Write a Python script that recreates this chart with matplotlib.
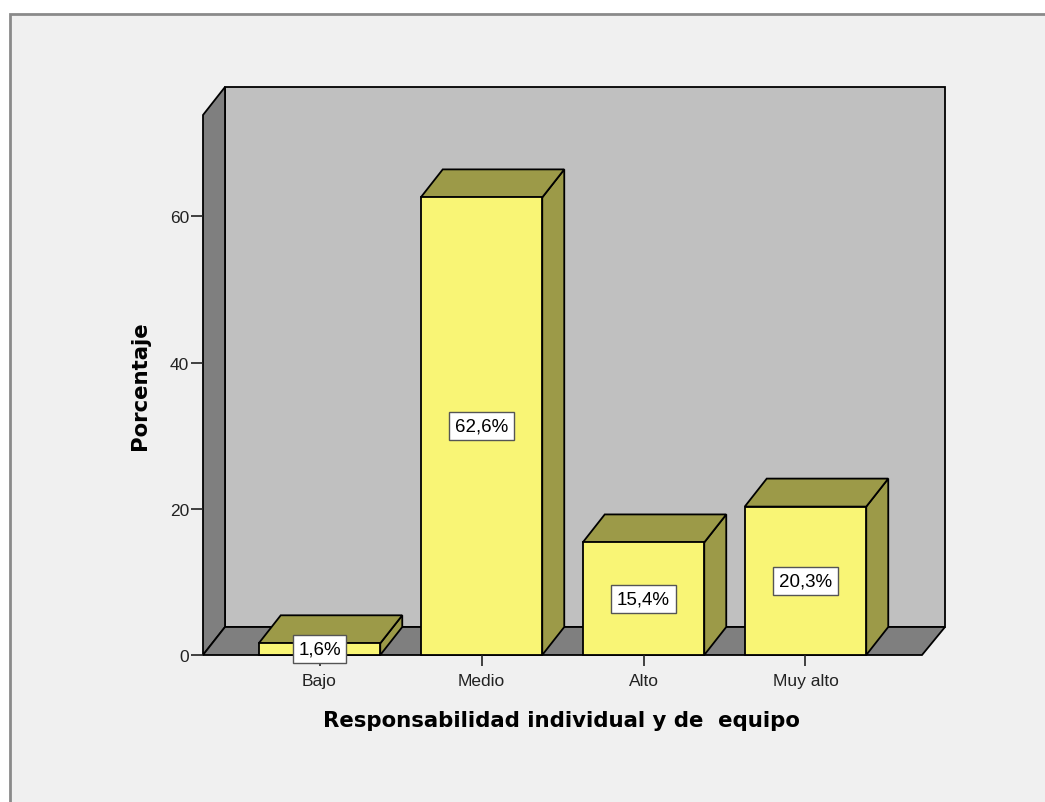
import matplotlib
matplotlib.use("Agg")
import matplotlib.pyplot as plt
from matplotlib.patches import Polygon, Rectangle

plt.rcParams['font.family'] = ['Liberation Sans', 'DejaVu Sans']

# datos
categorias = ['Bajo', 'Medio', 'Alto', 'Muy alto']
porcentajes = [1.6, 62.6, 15.4, 20.3]
etiquetas = ['1,6%', '62,6%', '15,4%', '20,3%']
yticks = [0, 20, 40, 60]

# colores estilo SPSS
c_frente = '#f9f575'
c_lado = '#9c9a48'
c_pared = '#c0c0c0'
c_suelo = '#7f7f7f'
c_fondo = '#f0f0f0'

W, H = 1045, 803
fig = plt.figure(figsize=(W / 100, H / 100), dpi=100)
fig.patch.set_facecolor('white')

# marco exterior gris (eje de fondo)
bg = fig.add_axes([0, 0, 1, 1], zorder=-10)
bg.set_xlim(0, W)
bg.set_ylim(H, 0)
bg.axis('off')
bg.add_patch(Rectangle((10, 15), W + 20, H + 20, facecolor=c_fondo,
                       edgecolor='#8a8a8a', linewidth=2))

# ejes = plano frontal + profundidad
x0, x1 = 203, 945
y0, y1 = 656, 88
ax = fig.add_axes([x0 / W, (H - y0) / H, (x1 - x0) / W, (y0 - y1) / H])
ax.set_facecolor('none')

px_cat = 162.0      # px por categoria
px_y = 7.31         # px por unidad de porcentaje
xmin = (203 - 319.5) / px_cat
xmax = xmin + (x1 - x0) / px_cat
ymax = (y0 - y1) / px_y
ax.set_xlim(xmin, xmax)
ax.set_ylim(0, ymax)

dx = 22 / px_cat
dy = 28 / px_y
xfront_r = (922 - 319.5) / px_cat
ytop_front = ymax - dy
ancho = 0.75

kw = dict(edgecolor='black', linewidth=1.3, joinstyle='miter', clip_on=False)

# pared del fondo
ax.add_patch(Polygon([(xmin + dx, dy), (xmax, dy), (xmax, ymax), (xmin + dx, ymax)],
                     facecolor=c_pared, **kw))
# pared izquierda
ax.add_patch(Polygon([(xmin, 0), (xmin + dx, dy), (xmin + dx, ymax), (xmin, ytop_front)],
                     facecolor=c_suelo, **kw))
# suelo
ax.add_patch(Polygon([(xmin, 0), (xfront_r, 0), (xmax, dy), (xmin + dx, dy)],
                     facecolor=c_suelo, **kw))

# barras 3D
for i, (v, lab) in enumerate(zip(porcentajes, etiquetas)):
    l, r = i - ancho / 2, i + ancho / 2
    ax.add_patch(Polygon([(r, 0), (r + dx, dy), (r + dx, v + dy), (r, v)],
                         facecolor=c_lado, **kw))
    ax.add_patch(Polygon([(l, v), (r, v), (r + dx, v + dy), (l + dx, v + dy)],
                         facecolor=c_lado, **kw))
    ax.add_patch(Polygon([(l, 0), (r, 0), (r, v), (l, v)], facecolor=c_frente, **kw))
    ax.text(i, v / 2, lab, ha='center', va='center', fontsize=13.5, zorder=5,
            bbox=dict(boxstyle='square,pad=0.3', facecolor='white',
                      edgecolor='#555555', linewidth=1))

for s in ax.spines.values():
    s.set_visible(False)
ax.set_yticks(yticks)
ax.set_yticklabels([str(t) for t in yticks], fontsize=12.5)
ax.tick_params(axis='y', length=9, width=1.2, direction='out', pad=1, colors='#222222')
ax.set_xticks(range(len(categorias)))
ax.set_xticklabels(categorias, fontsize=12.5)
ax.tick_params(axis='x', length=8, width=1.2, direction='out', pad=5, colors='#222222')

etiqueta_kw = dict(fontsize=15.3, fontweight='bold', family=['DejaVu Sans'])
ax.set_ylabel('Porcentaje', **etiqueta_kw)
ax.yaxis.set_label_coords(-(x0 - 140) / (x1 - x0), (y0 - 386) / (y0 - y1))
ax.set_xlabel('Responsabilidad individual y de  equipo', **etiqueta_kw)
ax.xaxis.set_label_coords((561 - x0) / (x1 - x0), -(721 - y0) / (y0 - y1))
ax.xaxis.label.set_va('center')
ax.yaxis.label.set_va('center')

fig.savefig('out.png', dpi=100)
